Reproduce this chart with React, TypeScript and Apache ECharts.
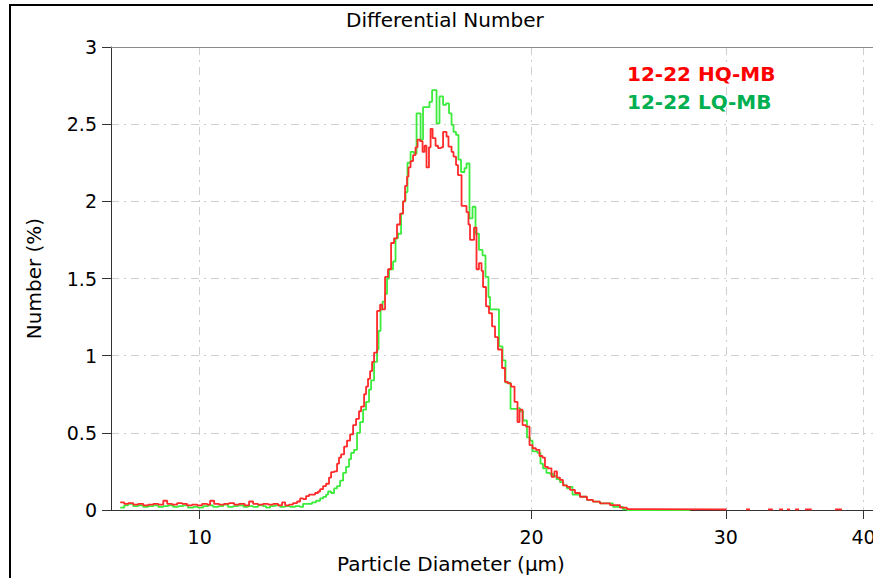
import React, { useEffect, useRef } from "react";
import * as echarts from "echarts";

// Particle diameter (µm) at the start of each step, and differential number (%)
const hqDiameter = [
  8.472, 8.543, 8.613, 8.705, 8.796, 8.889, 8.982, 9.078, 9.172, 9.268, 9.345, 9.442, 9.541, 9.641, 9.741, 9.845, 9.948,
  10.052, 10.158, 10.222, 10.307, 10.414, 10.524, 10.633, 10.746, 10.857, 10.984, 11.087, 11.181, 11.297, 11.417, 11.536,
  11.658, 11.779, 11.879, 11.954, 12.052, 12.154, 12.256, 12.334, 12.411, 12.489, 12.566, 12.725, 12.805, 12.86, 12.941,
  13.021, 13.102, 13.158, 13.241, 13.323, 13.378, 13.436, 13.52, 13.604, 13.691, 13.777, 13.863, 13.948, 14.009, 14.097,
  14.155, 14.213, 14.275, 14.335, 14.394, 14.484, 14.576, 14.637, 14.728, 14.82, 14.914, 15.007, 15.1, 15.197, 15.292,
  15.356, 15.419, 15.467, 15.534, 15.615, 15.696, 15.762, 15.845, 15.928, 15.994, 16.06, 16.142, 16.197, 16.265, 16.366,
  16.451, 16.556, 16.625, 16.745, 16.814, 16.922, 16.992, 17.081, 17.151, 17.279, 17.459, 17.531, 17.588, 17.735, 17.827,
  17.919, 18.015, 18.072, 18.184, 18.297, 18.415, 18.53, 18.645, 18.803, 18.92, 19.038, 19.16, 19.3, 19.42, 19.503, 19.625,
  19.768, 19.914, 20.039, 20.185, 20.333, 20.461, 20.567, 20.694, 20.849, 20.979, 21.089, 21.222, 21.355, 21.533, 21.67,
  21.896, 22.127, 22.451, 22.736, 23.07, 23.557, 24.054, 24.407, 25.5, 30.0, 30.05,
  31.3, 31.56, 31.6, 32.77, 33.04, 33.1, 33.53, 33.81, 33.85, 34.09, 34.31, 34.35, 34.67, 34.96, 35.0, 35.4, 35.84, 35.9,
  37.69, 38.24,
];
const hqNumber = [
  0.05, 0.04, 0.045, 0.035, 0.04, 0.03, 0.035, 0.04, 0.035, 0.06, 0.04, 0.035, 0.045, 0.04, 0.03, 0.035, 0.03,
  0.04, 0.035, 0.06, 0.04, 0.035, 0.04, 0.045, 0.035, 0.04, 0.03, 0.055, 0.04, 0.035, 0.04, 0.035,
  0.04, 0.03, 0.05, 0.03, 0.035, 0.045, 0.055, 0.075, 0.07, 0.09, 0.1, 0.11, 0.12, 0.135, 0.155,
  0.17, 0.21, 0.245, 0.25, 0.3, 0.34, 0.36, 0.41, 0.45, 0.49, 0.55, 0.59, 0.64, 0.67, 0.75,
  0.8, 0.85, 0.9, 0.96, 1.02, 1.29, 1.33, 1.3, 1.51, 1.56, 1.73, 1.76, 1.85, 1.92, 2.0,
  2.1, 2.16, 2.22, 2.26, 2.3, 2.35, 2.4, 2.39, 2.32, 2.36, 2.22, 2.35, 2.47, 2.41, 2.36,
  2.345, 2.35, 2.45, 2.42, 2.355, 2.32, 2.29, 2.235, 2.17, 1.97, 1.93, 1.85, 1.75, 1.83, 1.56,
  1.6, 1.55, 1.445, 1.32, 1.275, 1.19, 1.12, 1.04, 0.92, 0.83, 0.82, 0.8, 0.7, 0.57, 0.65, 0.55,
  0.54, 0.42, 0.4, 0.39, 0.35, 0.34, 0.28, 0.27, 0.215, 0.25, 0.21, 0.195, 0.16, 0.15, 0.13,
  0.11, 0.086, 0.065, 0.054, 0.043, 0.032, 0.015, 0.006, 0.004, 0.004, null,
  0.004, 0.004, null, 0.004, 0.004, null, 0.004, 0.004, null, 0.004, 0.004, null, 0.004, 0.004, null, 0.004, 0.004, null,
  0.004, 0.004,
];

const lqDiameter = [
  8.472, 8.543, 8.613, 8.705, 8.796, 8.889, 8.982, 9.078, 9.172, 9.268, 9.364, 9.462, 9.56, 9.661, 9.761, 9.866, 9.969,
  10.073, 10.179, 10.286, 10.393, 10.502, 10.611, 10.724, 10.835, 10.961, 11.064, 11.181, 11.297, 11.417, 11.488, 11.585,
  11.706, 11.83, 11.954, 12.079, 12.205, 12.334, 12.411, 12.54, 12.647, 12.752, 12.86, 12.941, 13.021, 13.075, 13.158,
  13.241, 13.323, 13.408, 13.492, 13.576, 13.66, 13.72, 13.805, 13.891, 13.98, 14.068, 14.155, 14.243, 14.305, 14.394,
  14.484, 14.529, 14.591, 14.652, 14.728, 14.789, 14.85, 14.976, 15.054, 15.132, 15.229, 15.292, 15.372, 15.435, 15.534,
  15.649, 15.729, 15.862, 15.944, 16.077, 16.159, 16.248, 16.4, 16.501, 16.625, 16.728, 16.832, 16.922, 16.992, 17.081,
  17.169, 17.261, 17.387, 17.459, 17.568, 17.68, 17.79, 17.919, 18.053, 18.165, 18.277, 18.338, 18.683, 18.823, 18.94,
  19.14, 19.4, 19.523, 19.645, 19.809, 19.935, 20.039, 20.248, 20.375, 20.482, 20.63, 20.784, 20.914, 21.067, 21.222,
  21.377, 21.533, 21.625, 21.783, 22.127, 22.451, 22.736, 23.07, 23.705, 24.205, 24.407, 27.85,
];
const lqNumber = [
  0.015, 0.03, 0.04, 0.025, 0.03, 0.02, 0.025, 0.03, 0.02, 0.025, 0.03, 0.02, 0.025, 0.03, 0.015, 0.02, 0.015,
  0.025, 0.03, 0.02, 0.025, 0.035, 0.02, 0.025, 0.03, 0.02, 0.025, 0.02, 0.03, 0.025, 0.015, 0.025,
  0.03, 0.02, 0.025, 0.02, 0.025, 0.02, 0.04, 0.04, 0.05, 0.06, 0.075, 0.085, 0.1, 0.12, 0.11,
  0.14, 0.155, 0.19, 0.24, 0.28, 0.33, 0.37, 0.39, 0.5, 0.57, 0.65, 0.7, 0.78, 0.84, 0.96,
  1.04, 1.16, 1.3, 1.35, 1.4, 1.5, 1.56, 1.61, 1.76, 1.79, 1.92, 2.0, 2.06, 2.25, 2.32,
  2.31, 2.57, 2.4, 2.61, 2.61, 2.645, 2.72, 2.505, 2.68, 2.625, 2.635, 2.57, 2.495, 2.45, 2.43,
  2.27, 2.19, 2.215, 2.245, 1.89, 1.965, 1.79, 1.685, 1.65, 1.51, 1.38, 1.3, 1.06, 0.97, 0.825,
  0.655, 0.66, 0.64, 0.58, 0.47, 0.45, 0.38, 0.37, 0.3, 0.27, 0.24, 0.235, 0.22, 0.2, 0.18,
  0.16, 0.14, 0.15, 0.1, 0.086, 0.065, 0.054, 0.043, 0.02, 0.005, 0, 0,
];

const xTickValues = [10, 20, 30, 40];
const xMin = 8.31;
const xMax = 40.8;
const yMin = 0;
const yMax = 3;
const yStep = 0.5;

const FONT = "DejaVu Sans";

export default function App() {
  const ref = useRef<HTMLDivElement>(null);

  useEffect(() => {
    const chart = echarts.init(ref.current!, null, { renderer: "svg" });
    const pairs = (xs: number[], ys: (number | null)[]) => xs.map((x, i) => [x, ys[i]]);
    const gridDash = { color: "#cfcfcf", width: 1, type: [8, 5, 2, 5] as any };

    chart.setOption({
      animation: false,
      backgroundColor: "#ffffff",
      title: {
        text: "Differential Number",
        left: 341,
        top: 5,
        textStyle: { fontFamily: FONT, fontSize: 20, fontWeight: "normal", color: "#000" },
      },
      grid: { left: 111, right: 0, top: 47, bottom: 68, containLabel: false, outerBoundsMode: "none" },
      xAxis: [
        {
          type: "log",
          logBase: 10,
          min: xMin,
          max: xMax,
          name: "Particle Diameter (µm)",
          nameLocation: "middle",
          nameGap: 44,
          nameTextStyle: { fontFamily: FONT, fontSize: 20, color: "#000", padding: [0, 82, 0, 0] },
          axisLine: { show: true, onZero: false, lineStyle: { color: "#333", width: 1 } },
          axisTick: { show: true, inside: false, length: 9, customValues: xTickValues, lineStyle: { color: "#333" } },
          axisLabel: {
            customValues: xTickValues,
            margin: 17,
            fontFamily: FONT,
            fontSize: 19,
            color: "#000",
            formatter: (v: number) => String(Math.round(v)),
          },
          splitLine: { show: true, lineStyle: gridDash },
          minorTick: { show: false },
          minorSplitLine: { show: false },
        },
        {
          type: "log",
          logBase: 10,
          min: xMin,
          max: xMax,
          position: "top",
          axisLine: { show: true, onZero: false, lineStyle: { color: "#8a8a8a", width: 1 } },
          axisTick: { show: false },
          axisLabel: { show: false },
          splitLine: { show: false },
        },
      ],
      yAxis: {
        type: "value",
        min: yMin,
        max: yMax,
        interval: yStep,
        name: "Number (%)",
        nameLocation: "middle",
        nameGap: 67,
        nameRotate: 90,
        nameTextStyle: { fontFamily: FONT, fontSize: 20, color: "#000" },
        axisLine: { show: true, lineStyle: { color: "#333", width: 1 } },
        axisTick: { show: true, inside: false, length: 9, lineStyle: { color: "#333" } },
        axisLabel: {
          margin: 14,
          fontFamily: FONT,
          fontSize: 19,
          color: "#000",
          formatter: (v: number) => String(v),
        },
        splitLine: { show: true, lineStyle: gridDash },
      },
      graphic: [
        {
          type: "rect",
          silent: true,
          z: 100,
          shape: { x: 10, y: 5, width: 900, height: 600 },
          style: { fill: "none", stroke: "#000", lineWidth: 2 },
        },
        {
          type: "text",
          left: 627,
          top: 64,
          z: 100,
          style: { text: "12-22 HQ-MB", fill: "#ff0000", font: `bold 20px "${FONT}"` },
        },
        {
          type: "text",
          left: 627,
          top: 92,
          z: 100,
          style: { text: "12-22 LQ-MB", fill: "#00b050", font: `bold 20px "${FONT}"` },
        },
      ],
      series: [
        {
          name: "12-22 LQ-MB",
          type: "line",
          xAxisIndex: 0,
          step: "end",
          symbol: "none",
          showSymbol: false,
          connectNulls: false,
          data: pairs(lqDiameter, lqNumber),
          lineStyle: { color: "#3ceb3c", width: 1.8 },
          itemStyle: { color: "#3ceb3c" },
          z: 3,
        },
        {
          name: "12-22 HQ-MB",
          type: "line",
          xAxisIndex: 0,
          step: "end",
          symbol: "none",
          showSymbol: false,
          connectNulls: false,
          data: pairs(hqDiameter, hqNumber),
          lineStyle: { color: "#ff2a2a", width: 1.8 },
          itemStyle: { color: "#ff2a2a" },
          z: 4,
        },
      ],
    });

    return () => chart.dispose();
  }, []);

  return (
    <div
      ref={ref}
      style={{ position: "fixed", left: 0, top: 0, width: 873, height: 578, background: "#fff" }}
    />
  );
}
